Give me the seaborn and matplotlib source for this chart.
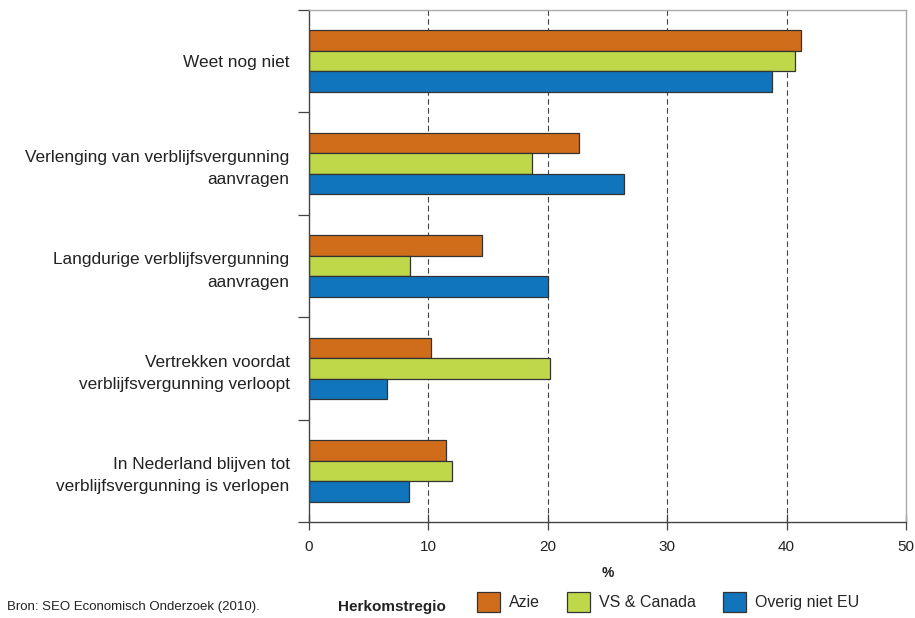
import matplotlib
matplotlib.use("Agg")
import matplotlib.pyplot as plt
import matplotlib.patches as mpatches
import seaborn as sns
import pandas as pd
import numpy as np

categories = [
    "Weet nog niet",
    "Verlenging van verblijfsvergunning\naanvragen",
    "Langdurige verblijfsvergunning\naanvragen",
    "Vertrekken voordat\nverblijfsvergunning verloopt",
    "In Nederland blijven tot\nverblijfsvergunning is verlopen",
]
regions = ["Azie", "VS & Canada", "Overig niet EU"]
azie = [41.2, 22.6, 14.5, 10.2, 11.5]
vs_canada = [40.7, 18.7, 8.5, 20.2, 12.0]
overig = [38.8, 26.4, 20.0, 6.5, 8.4]
xticks = [0, 10, 20, 30, 40, 50]
colors = ["#CF6D1A", "#BFD84A", "#1175BD"]

rows = []
for vals, reg in zip([azie, vs_canada, overig], regions):
    for cat, v in zip(categories, vals):
        rows.append({"cat": cat, "region": reg, "value": v})
df = pd.DataFrame(rows)

sns.set_style("white")
plt.rcParams["font.family"] = ["Liberation Sans", "DejaVu Sans"]

fig = plt.figure(figsize=(9.15, 6.18), dpi=100)
ax = fig.add_axes([309 / 915, 1 - 522 / 618, 597 / 915, (522 - 10) / 618])

sns.barplot(data=df, y="cat", x="value", hue="region", order=categories,
            hue_order=regions, palette=colors, orient="h", width=0.6,
            edgecolor="#333333", linewidth=0.9, saturation=1, ax=ax,
            legend=False)

ax.set_xlim(0, 50)
ax.set_ylim(4.5, -0.5)
ax.set_xticks(xticks)
ax.set_xticklabels([str(t) for t in xticks], fontsize=11, color="#222222")
ax.set_xlabel("")
ax.set_ylabel("")

for t in xticks[1:-1]:
    ax.axvline(t, color="#444444", lw=0.8, ls=(0, (5, 3)), zorder=0)

# category labels at centers, boundary tick marks
ax.set_yticks(range(len(categories)))
ax.set_yticklabels(categories, fontsize=12.4, color="#222222", ha="right",
                   multialignment="right")
for lbl in ax.get_yticklabels():
    lbl.set_linespacing(1.6)
ax.tick_params(axis="y", which="major", length=0, pad=14)
ax.set_yticks(np.arange(-0.5, len(categories), 1.0), minor=True)
ax.tick_params(axis="y", which="minor", length=8, width=0.9, color="#444444",
               direction="out", left=True)
ax.tick_params(axis="x", which="major", length=12, width=0.9, color="#444444",
               direction="inout", pad=7, bottom=True)

for s in ["left", "bottom"]:
    ax.spines[s].set_color("#444444")
    ax.spines[s].set_linewidth(1.0)
for s in ["top", "right"]:
    ax.spines[s].set_color("#aaaaaa")
    ax.spines[s].set_linewidth(1.0)
    ax.spines[s].set_visible(True)

fig.text(607.5 / 915, 1 - 573 / 618, "%", fontsize=10, fontweight="bold",
         ha="center", va="center", color="#222222")
fig.text(7 / 915, 1 - 607 / 618, "Bron: SEO Economisch Onderzoek (2010).",
         fontsize=9.5, ha="left", va="center", color="#222222")
fig.text(338 / 915, 1 - 607 / 618, "Herkomstregio", fontsize=11,
         fontweight="bold", ha="left", va="center", color="#222222")

handles = [mpatches.Patch(facecolor=c, edgecolor="#333333", linewidth=0.9)
           for c in colors]
fig.legend(handles, regions, loc="center left",
           bbox_to_anchor=(477 / 915, 1 - 602 / 618), ncol=3, frameon=False,
           fontsize=11.5, handlelength=1.45, handleheight=1.55,
           handletextpad=0.55, columnspacing=1.7, borderpad=0,
           borderaxespad=0)

fig.savefig("out.png", dpi=100)
